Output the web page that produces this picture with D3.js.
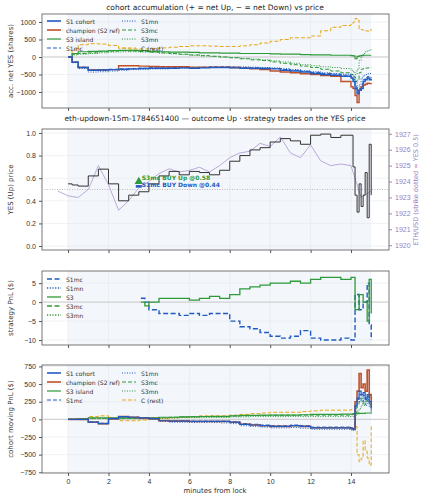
<!DOCTYPE html>
<html><head><meta charset="utf-8">
<script src="https://cdn.jsdelivr.net/npm/d3@7"></script>
<style>body{margin:0;background:#fff}svg{font-family:"DejaVu Sans",sans-serif}</style>
</head><body><svg width="425" height="500"></svg>
<script>
// shared time grid (minutes from lock)
const times = [0,0.2,0.5,1,1.5,2,2.5,3,3.5,4,4.5,5,5.5,6,6.5,7,7.5,8,8.5,9,9.5,10,10.5,11,11.5,12,12.5,13,13.5,14,14.1,14.2,14.3,14.4,14.5,14.6,14.7,14.8,14.9,15];

// panel 1: accumulated net YES shares
const accS1 = [0,-150,-300,-380,-370,-360,-350,-340,-330,-320,-320,-320,-310,-320,-310,-300,-300,-310,-320,-320,-330,-340,-380,-400,-430,-470,-500,-520,-550,-600,-700,-900,-1050,-950,-900,-700,-650,-600,-650,-620];
const accChamp = [0,-150,-300,-370,-370,-360,-250,-250,-260,-270,-280,-280,-280,-290,-290,-290,-290,-300,-320,-340,-360,-400,-430,-450,-480,-500,-530,-550,-700,-850,-900,-1100,-1300,-950,-850,-800,-780,-750,-760,-780];
const accS3 = [0,100,150,160,170,180,190,190,180,160,150,140,140,130,120,120,110,110,100,100,100,90,80,80,70,60,60,50,50,40,30,-50,20,30,40,50,50,50,50,50];
const accS1mc = [0,-140,-290,-370,-360,-350,-340,-330,-320,-310,-310,-300,-300,-300,-290,-280,-280,-290,-300,-310,-320,-330,-360,-380,-410,-440,-470,-490,-520,-560,-650,-850,-1000,-900,-800,-650,-600,-560,-600,-580];
const accS1mn = [0,-160,-330,-430,-420,-400,-380,-360,-350,-340,-340,-330,-320,-320,-310,-300,-290,-280,-280,-290,-300,-310,-330,-360,-390,-420,-450,-470,-490,-500,-550,-700,-950,-800,-600,-520,-500,-480,-470,-460];
const accS3mc = [0,80,100,120,150,170,180,170,160,140,120,100,80,60,40,20,0,-20,-50,-80,-100,-140,-180,-220,-260,-300,-350,-400,-450,-500,-550,-700,-650,-450,-350,-330,-320,-310,-300,-300];
const accS3mn = [0,60,80,100,120,140,150,150,140,130,110,90,70,50,30,20,0,-20,-40,-60,-80,-110,-140,-180,-220,-250,-280,-300,-330,-380,-420,-500,-350,-100,50,100,150,180,200,220];
const accC = [0,200,350,380,370,330,250,230,230,240,260,280,300,320,320,310,300,300,320,350,400,450,500,550,550,600,750,850,900,950,1000,1100,1050,800,780,760,750,740,760,800];

// panel 2: YES price and ETH price
const yesPrice = [0.55,0.54,0.53,0.62,0.68,0.55,0.40,0.45,0.48,0.55,0.62,0.66,0.63,0.66,0.65,0.63,0.67,0.75,0.80,0.85,0.87,0.92,0.95,0.93,0.90,0.98,0.99,0.96,0.98,0.98,0.70,0.45,0.30,0.55,0.35,0.45,0.65,0.25,0.90,0.45];
const ethTimes = [-0.5,0,0.5,1,1.5,2,2.5,3,3.5,4,4.5,5,5.5,6,6.5,7,7.5,8,8.5,9,9.5,10,10.5,11,11.5,12,12.5,13,13.5,14,14.5,15];
const ethPrice = [1923.4,1923.1,1923.0,1923.5,1925.0,1923.8,1922.2,1922.8,1923.6,1924.0,1924.5,1924.8,1924.6,1924.7,1924.9,1924.6,1925.0,1925.5,1925.8,1925.9,1926.4,1926.2,1926.8,1925.8,1925.5,1926.3,1925.3,1925.0,1925.1,1925.0,1923.0,1923.4];
const trades = [
  {t:3.5, p:0.57, label:"S3mc BUY Up @0.58", color:"#2e9a3a", shape:"tri"},
  {t:3.5, p:0.53, label:"S1mc BUY Down @0.44", color:"#1f5bc0", shape:"bar"}
];

// panel 3: strategy PnL
const pnlTimes = [3.6,3.8,4,4.5,5,5.5,6,6.5,7,7.5,8,8.5,9,9.5,10,10.5,11,11.5,12,12.5,13,13.5,14,14.1,14.2,14.4,14.6,14.8,14.9,15];
const pnlS3 = [0,-1,0,1,1,1,0.5,1,1.5,1,2,3.5,4,4.5,5,5,5.5,5,6,6.5,6.5,6,6.5,6.5,-2,2,0,-5,6,-3];
const pnlS1mc = [1,0,-2,-3,-3,-3.5,-3,-3.5,-3,-3,-5,-6.5,-7,-8,-9,-9.5,-9,-7.5,-9.5,-10,-10,-9.5,-10,-10,2,-2,0,5,-6,-10];

// panel 4: cohort moving PnL
const mpS1 = [0,0,0,-40,-60,10,40,30,20,10,-20,-25,-25,-30,-30,-30,-30,-40,-70,-80,-90,-100,-100,-90,-100,-120,-120,-120,-120,-130,-140,200,300,400,350,380,300,350,250,150];
const mpChamp = [0,0,0,-40,-60,10,40,30,20,10,-20,-25,-25,-30,-30,-30,-30,-40,-70,-80,-90,-100,-100,-90,-100,-120,-120,-120,-120,-130,-140,250,400,650,450,500,400,700,350,200];
const mpS3 = [0,0,10,20,20,20,20,20,20,20,30,30,35,35,40,40,40,50,55,55,60,60,60,60,65,70,70,70,75,75,80,80,80,85,85,85,90,90,90,80];
const mpS1mc = [0,0,0,-35,-55,10,35,30,20,10,-15,-20,-20,-25,-25,-25,-25,-35,-60,-70,-80,-90,-90,-80,-90,-110,-110,-110,-110,-120,-130,180,280,350,320,340,280,320,230,120];
const mpS1mn = [0,0,-5,-45,-65,0,30,20,10,0,-30,-40,-40,-45,-45,-45,-50,-60,-90,-100,-110,-120,-120,-115,-125,-140,-140,-140,-140,-150,-160,150,250,300,250,300,200,280,180,100];
const mpS3mc = [0,0,5,15,15,15,15,15,15,20,25,30,35,40,40,45,45,50,50,55,55,60,60,60,60,60,60,60,60,65,70,100,200,250,300,200,250,300,350,300];
const mpS3mn = [0,0,5,10,10,10,10,10,10,10,15,20,25,25,30,30,30,35,35,40,40,40,40,40,40,40,40,40,40,40,40,60,100,150,200,250,300,250,200,150];
const mpC = [0,0,10,40,50,0,-20,-20,-10,0,10,20,30,40,50,50,50,60,70,80,90,100,100,100,110,120,130,130,130,140,140,-100,-500,-600,-550,-300,-450,-550,-650,-100];

const BLUE="#1f5bc0", RED="#c0502a", GREEN="#2e9a3a", YEL="#e6a817";
const svg = d3.select("svg");
const L = 42, R = 389;
const x = d3.scaleLinear().domain([-1.29, 15.88]).range([L, R]);

function panel(top, bottom, ydom, yticks, fmt, ylabel){
  const y = d3.scaleLinear().domain(ydom).range([bottom, top]);
  const g = svg.append("g");
  g.append("rect").attr("x",x(0)).attr("y",top).attr("width",x(15)-x(0)).attr("height",bottom-top).attr("fill","#f3f6fb");
  g.selectAll(".gx").data(d3.range(0,16,2)).join("line").attr("x1",d=>x(d)).attr("x2",d=>x(d)).attr("y1",top).attr("y2",bottom).attr("stroke","#e4e7ec").attr("stroke-width",0.6);
  g.selectAll(".gy").data(yticks).join("line").attr("x1",L).attr("x2",R).attr("y1",d=>y(d)).attr("y2",d=>y(d)).attr("stroke","#e4e7ec").attr("stroke-width",0.6);
  const ya = g.append("g").attr("transform",`translate(${L},0)`).call(d3.axisLeft(y).tickValues(yticks).tickFormat(fmt).tickSize(3));
  const xa = g.append("g").attr("transform",`translate(0,${bottom})`).call(d3.axisBottom(x).tickValues(d3.range(0,16,2)).tickSize(3).tickFormat(""));
  [ya,xa].forEach(a=>{a.select(".domain").remove();a.selectAll("text").attr("font-size",7).attr("fill","#333");a.selectAll("line").attr("stroke","#555");});
  g.append("rect").attr("x",L).attr("y",top).attr("width",R-L).attr("height",bottom-top).attr("fill","none").attr("stroke","#555").attr("stroke-width",0.8);
  g.append("text").attr("transform",`translate(13,${(top+bottom)/2}) rotate(-90)`).attr("text-anchor","middle").attr("font-size",7).attr("fill","#333").text(ylabel);
  return {g,y,xa};
}
function series(p, ts, vs, color, dash, w){
  p.g.append("path").datum(ts.map((t,i)=>[t,vs[i]]))
    .attr("d", d3.line().x(d=>x(d[0])).y(d=>p.y(d[1])).curve(d3.curveStepAfter))
    .attr("fill","none").attr("stroke",color).attr("stroke-width",w||1).attr("stroke-dasharray",dash||null);
}
function legend(p, items, x0, y0, cols, dx){
  items.forEach((it,i)=>{
    const cx = x0 + Math.floor(i/cols)*dx, cy = y0 + (i%cols)*9;
    p.g.append("line").attr("x1",cx).attr("x2",cx+14).attr("y1",cy).attr("y2",cy).attr("stroke",it[1]).attr("stroke-width",it[3]||1.2).attr("stroke-dasharray",it[2]||null);
    p.g.append("text").attr("x",cx+19).attr("y",cy+2.5).attr("font-size",6).attr("fill","#333").text(it[0]);
  });
}
const title = (yy,s)=>svg.append("text").attr("x",215).attr("y",yy).attr("text-anchor","middle").attr("font-size",7.5).attr("fill","#222").text(s);

// panel 1
title(10,"cohort accumulation (+ = net Up, − = net Down) vs price");
const p1 = panel(14,108,[-1457,1229],[-1000,-500,0,500,1000],d3.format(""),"acc. net YES (shares)");
p1.g.append("line").attr("x1",L).attr("x2",R).attr("y1",p1.y(0)).attr("y2",p1.y(0)).attr("stroke","#ccc");
series(p1,times,accC,YEL,"4,2");
series(p1,times,accS3mn,GREEN,"1,1.5");
series(p1,times,accS3mc,GREEN,"4,2");
series(p1,times,accS1mn,BLUE,"1,1.5");
series(p1,times,accS1mc,BLUE,"4,2");
series(p1,times,accS3,GREEN,null,1.2);
series(p1,times,accChamp,RED,null,1.4);
series(p1,times,accS1,BLUE,null,1.4);
const leg1 = [["S1 cohort",BLUE,null,1.6],["champion (S2 ref)",RED,null,1.6],["S3 island",GREEN],["S1mc",BLUE,"4,2"],["S1mn",BLUE,"1,1.5"],["S3mc",GREEN,"4,2"],["S3mn",GREEN,"1,1.5"],["C (rest)",YEL,"4,2"]];
legend(p1,leg1,47,21,4,75);

// panel 2
title(121,"eth-updown-15m-1784651400 — outcome Up · strategy trades on the YES price");
const p2 = panel(129,250,[-0.035,1.035],[0,0.2,0.4,0.6,0.8,1.0],d3.format(".1f"),"YES (Up) price");
const yEth = d3.scaleLinear().domain([1919.7,1927.3]).range([250,129]);
const ra = p2.g.append("g").attr("transform",`translate(${R},0)`).call(d3.axisRight(yEth).tickValues(d3.range(1920,1928)).tickFormat(d3.format("")).tickSize(3));
ra.select(".domain").remove(); ra.selectAll("text").attr("font-size",7).attr("fill","#9a80c0"); ra.selectAll("line").attr("stroke","#9a80c0");
p2.g.append("text").attr("transform",`translate(418,190) rotate(-90)`).attr("text-anchor","middle").attr("font-size",6.5).attr("fill","#9a80c0").text("ETH/USD (strike dotted = YES 0.5)");
p2.g.append("line").attr("x1",L).attr("x2",R).attr("y1",p2.y(0.5)).attr("y2",p2.y(0.5)).attr("stroke","#bbb").attr("stroke-dasharray","1,1.5");
p2.g.append("path").datum(ethTimes.map((t,i)=>[t,ethPrice[i]]))
  .attr("d",d3.line().x(d=>x(d[0])).y(d=>yEth(d[1]))).attr("fill","none").attr("stroke","#b3a0d6").attr("stroke-width",0.9);
series(p2,times,yesPrice,"#333",null,1);
trades.forEach(tr=>{
  const px=x(tr.t), py=p2.y(tr.p);
  if(tr.shape==="tri") p2.g.append("path").attr("d",d3.symbol(d3.symbolTriangle,30)()).attr("transform",`translate(${px},${py})`).attr("fill",tr.color);
  else p2.g.append("rect").attr("x",px-3).attr("y",py-1).attr("width",6).attr("height",2.5).attr("fill",tr.color);
  p2.g.append("text").attr("x",px+3).attr("y",py-(tr.shape==="tri"?2:-1)).attr("font-size",6).attr("font-weight","bold").attr("fill",tr.color).text(tr.label);
});

// panel 3
const p3 = panel(271,345,[-11.3,8.2],[-10,-5,0,5],d3.format(""),"strategy PnL ($)");
p3.g.append("line").attr("x1",L).attr("x2",R).attr("y1",p3.y(0)).attr("y2",p3.y(0)).attr("stroke","#ccc");
series(p3,pnlTimes,pnlS1mc,BLUE,"5,2.5",1.4);
series(p3,pnlTimes,pnlS3,GREEN,null,1.3);
legend(p3,[["S1mc",BLUE,"5,2.5",1.4],["S1mn",BLUE,"1.2,1.5",1.4],["S3",GREEN,null,1.3],["S3mc",GREEN,"5,2.5",1.4],["S3mn",GREEN,"1.2,1.5",1.4]],47,279,5,80);

// panel 4
const p4 = panel(365,473,[-760,770],[-750,-500,-250,0,250,500,750],d3.format(""),"cohort moving PnL ($)");
p4.g.append("line").attr("x1",L).attr("x2",R).attr("y1",p4.y(0)).attr("y2",p4.y(0)).attr("stroke","#ccc");
series(p4,times,mpC,YEL,"4,2");
series(p4,times,mpS3mn,GREEN,"1,1.5");
series(p4,times,mpS3mc,GREEN,"4,2");
series(p4,times,mpS1mn,BLUE,"1,1.5");
series(p4,times,mpS1mc,BLUE,"4,2");
series(p4,times,mpS3,GREEN,null,1.2);
series(p4,times,mpChamp,RED,null,1.6);
series(p4,times,mpS1,BLUE,null,1.2);
legend(p4,leg1,47,373,4,75);
p4.xa.call(d3.axisBottom(x).tickValues(d3.range(0,16,2)).tickSize(3));
p4.xa.select(".domain").remove(); p4.xa.selectAll("text").attr("font-size",7).attr("fill","#333");
svg.append("text").attr("x",215).attr("y",493).attr("text-anchor","middle").attr("font-size",7).attr("fill","#333").text("minutes from lock");
</script></body></html>
